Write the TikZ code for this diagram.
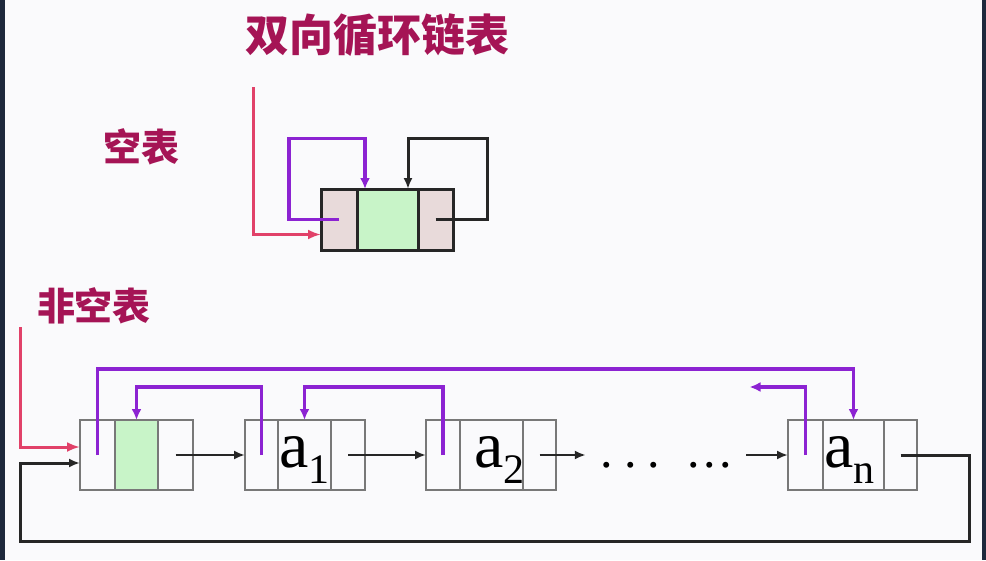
\documentclass[tikz,border=0pt]{standalone}
\usepackage{fontspec}
\setmainfont{Liberation Serif}
\newfontfamily\cjk{Noto Sans CJK SC}
\usepackage{tikz}
\usetikzlibrary{arrows.meta,positioning}
\definecolor{titlered}{RGB}{165,20,85}
\definecolor{headpink}{RGB}{225,65,105}
\definecolor{linkpurple}{RGB}{140,35,210}
\definecolor{cellgray}{RGB}{120,120,120}
\definecolor{nullfill}{RGB}{232,218,218}
\definecolor{datagreen}{RGB}{200,244,200}
\definecolor{slideback}{RGB}{250,250,252}
\definecolor{frameedge}{RGB}{30,40,60}
\tikzstyle{cell} = [draw=cellgray, line width=2pt, minimum height=70pt,
    inner sep=0pt, outer sep=0pt]
\tikzstyle{emptycell} = [draw=black!85, line width=3pt, minimum height=61pt,
    inner sep=0pt, outer sep=0pt, fill=nullfill]
\tikzstyle{nextlink} = [-{Latex[length=11pt,width=9pt]}, line width=2.5pt, black!85]
\tikzstyle{priorlink} = [-{Latex[length=11pt,width=10pt]}, line width=3.5pt, linkpurple]
\tikzstyle{headlink} = [-{Latex[length=13pt,width=10pt]}, line width=3pt, headpink]
\tikzstyle{caption} = [text=titlered, inner sep=0pt,
    font=\cjk\bfseries\fontsize{38pt}{38pt}\selectfont]
\tikzstyle{datatext} = [anchor=base, inner sep=0pt,
    font=\fontsize{66pt}{66pt}\selectfont]
\newcommand{\elem}[1]{a\raisebox{-16pt}{\fontsize{42pt}{42pt}\selectfont #1}}

\begin{document}
\begin{tikzpicture}[x=1pt, y=-1pt]
  \fill[slideback] (0,0) rectangle (986,560);
  \fill[frameedge] (0,0) rectangle (5,560);
  \fill[frameedge] (982,0) rectangle (986,560);
  \useasboundingbox (0,0) rectangle (986,560);

  \node [caption, font=\cjk\bfseries\fontsize{44pt}{44pt}\selectfont] (title) at (377,35) {双向循环链表};
  \node [caption] (emptytxt) at (141,147) {空表};
  \node [caption] (fulltxt) at (94,306) {非空表};

  % empty list
  \node [emptycell, minimum width=36pt, anchor=west] (ep) at (321,219.5) {};
  \node [emptycell, minimum width=61pt, fill=datagreen, right=0pt of ep] (ed) {};
  \node [emptycell, minimum width=35pt, right=0pt of ed] (en) {};
  \coordinate (ehead) at (253,87);
  \draw [headlink] (ehead) |- ([yshift=-15pt]ep.west);
  \draw [priorlink] (ep.center) -- ++(-50,0) -- ++(0,-81) -| ([xshift=8pt]ed.north west);
  \draw [nextlink, line width=3pt] (en.center) -- ++(52,0) -- ++(0,-81) -| ([xshift=-10pt]ed.north east);

  % non-empty list
  \node [cell, minimum width=35pt, anchor=west] (hp) at (80,455) {};
  \node [cell, minimum width=43pt, fill=datagreen, right=0pt of hp] (hd) {};
  \node [cell, minimum width=35pt, right=0pt of hd] (hn) {};

  \node [cell, minimum width=33pt, anchor=west] (a1p) at (245,455) {};
  \node [cell, minimum width=53pt, right=0pt of a1p] (a1d) {};
  \node [cell, minimum width=34pt, right=0pt of a1d] (a1n) {};

  \node [cell, minimum width=34pt, anchor=west] (a2p) at (426,455) {};
  \node [cell, minimum width=63pt, right=0pt of a2p] (a2d) {};
  \node [cell, minimum width=33pt, right=0pt of a2d] (a2n) {};

  \node [cell, minimum width=35pt, anchor=west] (anp) at (788,455) {};
  \node [cell, minimum width=61pt, right=0pt of anp] (and) {};
  \node [cell, minimum width=33pt, right=0pt of and] (ann) {};

  \node [datatext] (a1t) at ([yshift=-12pt]a1d.center) {\elem{1}};
  \node [datatext] (a2t) at ([yshift=-12pt,xshift=8pt]a2d.center) {\elem{2}};
  \node [datatext] (ant) at ([yshift=-12pt,xshift=-4pt]and.center) {\elem{n}};
  \node [anchor=base, inner sep=0pt, minimum width=160pt,
    font=\fontsize{50pt}{50pt}\selectfont] (dots) at (666,467)
    {.\hspace{11pt}.\hspace{11pt}.\hspace{27pt}.\hspace{3.5pt}.\hspace{3.5pt}.};

  \coordinate (fhead) at (20,327);
  \coordinate (rcorner) at (969,541);
  \draw [headlink] (fhead) |- ([yshift=8pt]hp.west);
  \draw [nextlink, line width=3pt] (ann.center) -| (rcorner) -- (rcorner -| fhead) |- ([yshift=-8pt]hp.west);

  \draw [nextlink] (hn.center) -- (a1p.west);
  \draw [nextlink] (a1n.center) -- (a2p.west);
  \draw [nextlink] (a2n.center) -- (a2n.center -| dots.west);
  \draw [nextlink] (dots.east |- anp.west) -- (anp.west);

  \draw [priorlink] (hp.center) -- ++(0,-86) -| (and.north);
  \draw [priorlink] (a1p.center) -- ++(0,-68) -| (hd.north);
  \draw [priorlink] (a2p.center) -- ++(0,-68) -| (a1d.north);
  \draw [priorlink] (anp.center) -- ++(0,-68) -- ++(-56,0);
\end{tikzpicture}
\end{document}
